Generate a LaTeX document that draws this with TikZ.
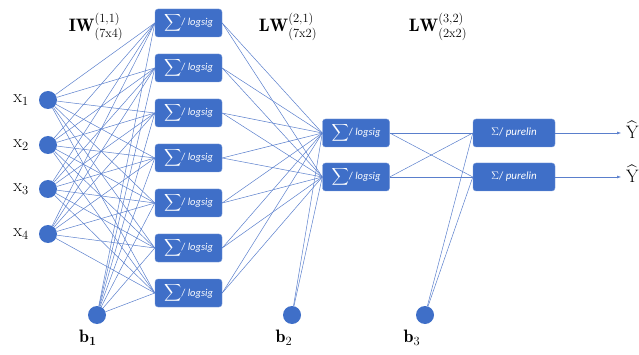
\documentclass[tikz,border=0pt]{standalone}
\usepackage{fontspec}
\usepackage{amsmath}
\newfontfamily\boxfont{Carlito}
\usetikzlibrary{arrows.meta}
\definecolor{nodeblue}{HTML}{3F6FC8}
\definecolor{wireblue}{HTML}{5A7FCC}
\tikzset{
  neuron/.style={circle, fill=nodeblue, inner sep=0pt, minimum size=18pt},
  sumbox/.style={rectangle, rounded corners=3pt, fill=nodeblue, draw=nodeblue!70!white,
    text=white, minimum width=67pt, minimum height=28pt, inner sep=1pt,
    font=\boxfont\fontsize{10.5}{10.5}\selectfont},
  outbox/.style={sumbox, minimum width=82pt, font=\boxfont\fontsize{11}{11}\selectfont},
  wire/.style={draw=wireblue, line width=0.5pt},
  lbl/.style={font=\fontsize{18}{18}\selectfont, inner sep=0pt},
  hdr/.style={font=\fontsize{18}{18}\selectfont, inner sep=0pt}
}
\newcommand{\bigsum}{{\fontsize{12}{12}\selectfont$\displaystyle\sum$}}
% readable script text for indices
\newcommand{\idx}[1]{\mbox{\fontsize{12.5}{12.5}\selectfont #1}}
\begin{document}
\begin{tikzpicture}[x=1pt,y=-1pt]
\useasboundingbox (0,0) rectangle (639,355);

% input neurons
\foreach \i/\yy in {1/100,2/145,3/189,4/234}{
  \node[neuron] (x\i) at (48,\yy) {};
  \node[lbl] (xl\i) at (21,\yy) {$\mathrm{x}_{\idx{\i}}$};
}
\node[neuron] (b1) at (97,315) {};
\node[lbl] (b1l) at (88,338) {$\mathbf{b}_{\idx{\textbf{1}}}$};

% first hidden layer
\foreach \j/\yy in {1/23,2/68,3/113,4/158,5/203,6/248,7/293}{
  \node[sumbox] (h\j) at (188.5,\yy) {\bigsum/ \textit{logsig}};
}
% second hidden layer
\node[sumbox] (g1) at (356,133) {\bigsum/ \textit{logsig}};
\node[sumbox] (g2) at (356,177) {\bigsum/ \textit{logsig}};
\node[neuron] (b2) at (292,315) {};
\node[lbl] (b2l) at (284,338) {$\mathbf{b}_{\idx{2}}$};

% output layer
\node[outbox] (o1) at (514,133) {$\Sigma$/ \textit{purelin}};
\node[outbox] (o2) at (514,177) {$\Sigma$/ \textit{purelin}};
\node[neuron] (b3) at (425,315) {};
\node[lbl] (b3l) at (412,338) {$\mathbf{b}_{\idx{3}}$};

% output labels
\coordinate (y1e) at (621,133);
\coordinate (y2e) at (621,177);
\node[lbl, anchor=west] (y1l) at (626,131) {$\widehat{\mathrm{Y}}_{\idx{1}}$};
\node[lbl, anchor=west] (y2l) at (626,175) {$\widehat{\mathrm{Y}}_{\idx{2}}$};

% weight labels
\node[hdr] (iw) at (96,27) {$\mathbf{IW}^{\idx{(1,1)}}_{\idx{(7x4)}}$};
\node[hdr] (lw1) at (288,27) {$\mathbf{LW}^{\idx{(2,1)}}_{\idx{(7x2)}}$};
\node[hdr] (lw2) at (438,27) {$\mathbf{LW}^{\idx{(3,2)}}_{\idx{(2x2)}}$};

% connections
\foreach \j in {1,...,7}{
  \foreach \i in {1,...,4}{ \draw[wire] (x\i) -- (h\j.west); }
  \draw[wire] (b1) -- (h\j.west);
  \draw[wire] (h\j.east) -- (g1.west);
  \draw[wire] (h\j.east) -- (g2.west);
}
\foreach \k in {1,2}{
  \draw[wire] (b2) -- (g\k.west);
  \draw[wire] (g\k.east) -- (o1.west);
  \draw[wire] (g\k.east) -- (o2.west);
  \draw[wire] (b3) -- (o\k.west);
}
\draw[wire, -{Latex[length=4pt,width=3pt]}] (o1.east) -- (y1e);
\draw[wire, -{Latex[length=4pt,width=3pt]}] (o2.east) -- (y2e);
\end{tikzpicture}
\end{document}
